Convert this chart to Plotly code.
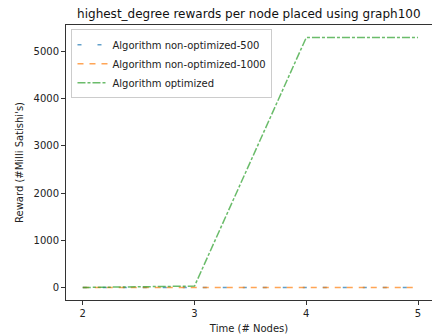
import plotly.graph_objects as go

nodes = [2, 3, 4, 5]
non_opt_500 = [0, 0, 0, 0]
non_opt_1000 = [0, 0, 0, 0]
optimized = [0, 30, 5300, 5300]

title = "highest_degree rewards per node placed using graph100"
x_label = "Time (# Nodes)"
y_label = "Reward (#Milli Satishi's)"
x_ticks = [2, 3, 4, 5]
y_ticks = [0, 1000, 2000, 3000, 4000, 5000]

fig = go.Figure()
fig.add_trace(go.Scatter(x=nodes, y=non_opt_500, mode="lines",
                         name="Algorithm non-optimized-500",
                         line=dict(color="#1f77b4", width=1.5, dash="4px,16px"), opacity=0.7))
fig.add_trace(go.Scatter(x=nodes, y=non_opt_1000, mode="lines",
                         name="Algorithm non-optimized-1000",
                         line=dict(color="#ff7f0e", width=1.5, dash="6px,6px"), opacity=0.7))
fig.add_trace(go.Scatter(x=nodes, y=optimized, mode="lines",
                         name="Algorithm optimized",
                         line=dict(color="#2ca02c", width=1.5, dash="8px,2px,3px,2px"), opacity=0.7))

axis_common = dict(showline=True, linecolor="#333", linewidth=1, mirror=True,
                   ticks="outside", ticklen=4, tickcolor="#333", showgrid=False,
                   zeroline=False, tickfont=dict(size=10, color="#222"))
fig.update_layout(
    width=432, height=335,
    margin=dict(l=66, r=0, t=25, b=35),
    plot_bgcolor="white", paper_bgcolor="white",
    font=dict(family="DejaVu Sans", color="#222"),
    title=dict(text=title, x=0.576, xanchor="center", y=0.958, yanchor="middle",
               font=dict(size=12, color="#111")),
    xaxis=dict(range=[1.85, 5.125], tickvals=x_ticks,
               title=dict(text=x_label, font=dict(size=10), standoff=6), **axis_common),
    yaxis=dict(range=[-265, 5565], tickvals=y_ticks,
               title=dict(text=y_label, font=dict(size=10), standoff=8), **axis_common),
    legend=dict(x=0.015, y=0.985, xanchor="left", yanchor="top",
                bgcolor="rgba(255,255,255,0.8)", bordercolor="#ccc", borderwidth=1,
                font=dict(size=10), tracegroupgap=0, itemwidth=30),
    showlegend=True,
)
fig.write_html("out.html")
